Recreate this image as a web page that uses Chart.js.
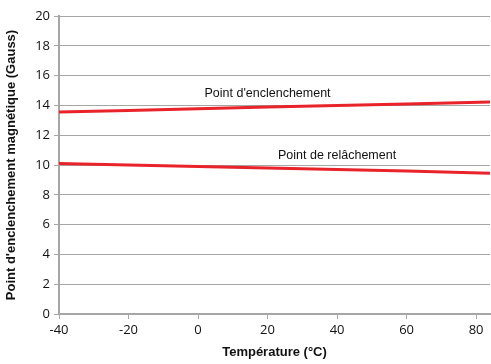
<!DOCTYPE html>
<html>
<head>
<meta charset="utf-8">
<script src="https://cdn.jsdelivr.net/npm/chart.js@4"></script>
<style>
  body { margin: 0; background: #fff; }
  #wrap { width: 491px; height: 364px; }
</style>
</head>
<body>
<div id="wrap"><canvas id="myChart" width="491" height="364"></canvas></div>
<script>
// temperatures (°C) and switching points (Gauss)
const temperatures = [-40, -20, 0, 20, 40, 60, 84];
const enclenchement = [13.55, 13.65, 13.78, 13.9, 14.0, 14.1, 14.22];
const relachement = [10.1, 10.0, 9.9, 9.8, 9.7, 9.6, 9.45];
const xTicks = [-40, -20, 0, 20, 40, 60, 80];

// text labels placed in data coordinates
const notes = [
	{ text: "Point d'enclenchement", x: 20, y: 14.8 },
	{ text: 'Point de relâchement', x: 40, y: 10.65 }
];

const gridGray = '#a6a6a6';
const red = '#e8232a';

const toPoints = (vals) => temperatures.map((t, i) => ({ x: t, y: vals[i] }));

const notesPlugin = {
	id: 'notes',
	afterDatasetsDraw(chart) {
		const ctx = chart.ctx;
		const xs = chart.scales.x, ys = chart.scales.y;
		ctx.save();
		ctx.font = '12.5px "Liberation Sans", Arial, sans-serif';
		ctx.fillStyle = '#111';
		ctx.textAlign = 'center';
		ctx.textBaseline = 'middle';
		notes.forEach(n => {
			ctx.fillText(n.text, xs.getPixelForValue(n.x), ys.getPixelForValue(n.y));
		});
		ctx.restore();
	}
};

const data = {
	datasets: [
		{
			label: "Point d'enclenchement",
			data: toPoints(enclenchement),
			borderColor: red,
			borderWidth: 3,
			pointRadius: 0,
			tension: 0
		},
		{
			label: 'Point de relâchement',
			data: toPoints(relachement),
			borderColor: red,
			borderWidth: 3,
			pointRadius: 0,
			tension: 0
		}
	]
};

const tickFont = { family: '"Open Sans", "DejaVu Sans", sans-serif', size: 13 };
const titleFont = { family: '"Liberation Sans", Arial, sans-serif', size: 13, weight: 'bold' };

const viewChart = {
	type: 'line',
	data: data,
	options: {
		responsive: false,
		animation: false,
		layout: { padding: { top: 16, right: 1, bottom: 0, left: 0 } },
		plugins: {
			legend: { display: false },
			tooltip: { enabled: false }
		},
		scales: {
			x: {
				type: 'linear',
				min: -40,
				max: 84,
				afterBuildTicks(scale) {
					scale.ticks = xTicks.map(v => ({ value: v }));
				},
				afterFit(scale) { scale.height = 50; },
				grid: { drawOnChartArea: false, drawTicks: true, tickLength: 5, color: gridGray },
				border: { color: gridGray, width: 2 },
				ticks: { color: '#111', font: tickFont, padding: 3, maxRotation: 0 },
				title: { display: true, text: 'Température (°C)', color: '#111', font: titleFont, padding: { top: 0 } }
			},
			y: {
				min: 0,
				max: 20,
				afterFit(scale) { scale.width = 59; },
				grid: { color: gridGray, lineWidth: 1, tickLength: 5 },
				border: { color: gridGray, width: 2 },
				ticks: { stepSize: 2, color: '#111', font: tickFont, padding: 4 },
				title: { display: true, text: "Point d'enclenchement magnétique (Gauss)", color: '#111', font: titleFont, padding: { bottom: 0 } }
			}
		}
	},
	plugins: [notesPlugin]
};

const chart = document.getElementById('myChart');
const myChart = new Chart(chart, viewChart);
</script>
</body>
</html>
